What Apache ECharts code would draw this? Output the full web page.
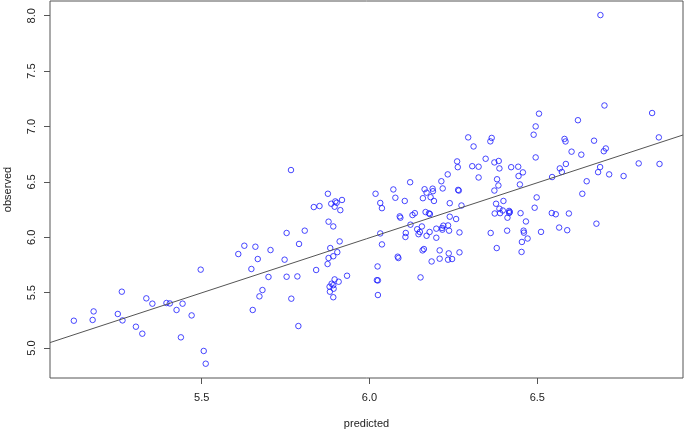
<!DOCTYPE html>
<html>
<head>
<meta charset="utf-8">
<title>observed vs predicted</title>
<script src="https://cdn.jsdelivr.net/npm/echarts@6/dist/echarts.min.js"></script>
<style>
  html, body { margin: 0; padding: 0; background: #fff; }
  #chart { width: 685px; height: 430px; }
</style>
</head>
<body>
<div id="chart"></div>
<script>
const predicted = [
  5.119, 5.178, 5.175, 5.262, 5.250, 5.264, 5.304, 5.323, 5.335, 5.353,
  5.395, 5.405, 5.425, 5.443, 5.438, 5.470, 5.497, 5.506, 5.512, 5.609,
  5.766, 5.876, 5.834, 5.851, 5.878, 5.753, 5.807, 5.790, 5.627, 5.660,
  5.705, 5.667, 5.747, 5.878, 5.875, 5.648, 5.841, 5.699, 5.753, 5.785,
  5.881, 5.681, 5.672, 5.767, 5.652, 5.788,
  6.294, 6.261, 6.263, 6.233, 6.121, 6.214, 6.071, 6.018, 6.077, 6.164,
  6.188, 6.189, 6.218, 6.159, 6.170, 6.182, 6.264, 6.266, 5.886, 5.898,
  5.902, 5.918, 5.896, 5.913, 6.032, 6.037, 6.105, 6.192, 6.239, 6.274,
  6.090, 6.092, 6.128, 6.135, 6.167, 6.177, 6.180, 5.892, 6.122, 6.108,
  6.107, 6.142, 6.156, 6.150, 6.146, 6.179, 6.170, 6.199, 6.199, 6.216,
  6.220, 6.234, 6.217, 6.237, 6.239, 6.258, 6.268, 6.032, 6.037, 5.911,
  5.883, 5.904, 5.892, 6.084, 6.086, 6.158, 6.162, 6.209, 6.236, 6.268,
  6.185, 6.209, 6.234, 6.246, 6.024, 6.022, 6.025, 6.152, 5.933, 5.896,
  5.908, 5.887, 5.892, 5.893, 5.882, 5.892, 6.025,
  6.688, 6.700, 6.842, 6.505, 6.621, 6.495, 6.489, 6.310, 6.364, 6.360,
  6.862, 6.581, 6.584, 6.669, 6.704, 6.698, 6.602, 6.631, 6.346, 6.495,
  6.372, 6.385, 6.387, 6.306, 6.325, 6.422, 6.443, 6.457, 6.444, 6.448,
  6.585, 6.567, 6.573, 6.544, 6.687, 6.681, 6.714, 6.757, 6.802, 6.864,
  6.325, 6.380, 6.384, 6.372, 6.647, 6.634, 6.498, 6.377, 6.399, 6.492,
  6.387, 6.397, 6.416, 6.418, 6.373, 6.389, 6.416, 6.450, 6.543, 6.555,
  6.594, 6.411, 6.466, 6.676, 6.565, 6.589, 6.361, 6.410, 6.459, 6.460,
  6.511, 6.471, 6.454, 6.379, 6.453
];
const observed = [
  5.247, 5.331, 5.254, 5.509, 5.308, 5.250, 5.193, 5.130, 5.449, 5.401,
  5.407, 5.403, 5.344, 5.401, 5.097, 5.295, 5.708, 4.974, 4.859, 5.849,
  6.607, 6.393, 6.273, 6.282, 6.141, 6.039, 6.060, 5.940, 5.924, 5.915,
  5.885, 5.804, 5.798, 5.813, 5.759, 5.714, 5.705, 5.642, 5.644, 5.647,
  5.554, 5.524, 5.467, 5.446, 5.344, 5.199,
  6.902, 6.685, 6.633, 6.568, 6.497, 6.506, 6.432, 6.393, 6.357, 6.434,
  6.439, 6.416, 6.441, 6.353, 6.403, 6.362, 6.428, 6.422, 6.303, 6.324,
  6.312, 6.337, 6.276, 6.245, 6.310, 6.263, 6.328, 6.328, 6.308, 6.287,
  6.189, 6.177, 6.201, 6.218, 6.228, 6.216, 6.210, 6.098, 6.114, 6.039,
  6.003, 6.073, 6.098, 6.048, 6.028, 6.048, 6.014, 6.078, 5.996, 6.084,
  6.105, 6.107, 6.069, 6.060, 6.186, 6.165, 6.044, 6.035, 5.936, 5.963,
  5.903, 5.866, 5.829, 5.825, 5.813, 5.882, 5.894, 5.882, 5.855, 5.864,
  5.782, 5.807, 5.798, 5.804, 5.737, 5.613, 5.611, 5.638, 5.653, 5.620,
  5.599, 5.581, 5.568, 5.536, 5.509, 5.459, 5.479,
  8.006, 7.190, 7.122, 7.116, 7.057, 7.001, 6.926, 6.820, 6.897, 6.866,
  6.902, 6.888, 6.865, 6.872, 6.802, 6.777, 6.773, 6.746, 6.709, 6.721,
  6.676, 6.689, 6.622, 6.642, 6.637, 6.633, 6.637, 6.586, 6.553, 6.477,
  6.662, 6.622, 6.590, 6.544, 6.634, 6.588, 6.568, 6.553, 6.667, 6.662,
  6.540, 6.524, 6.468, 6.422, 6.506, 6.393, 6.360, 6.303, 6.328, 6.267,
  6.258, 6.242, 6.238, 6.228, 6.215, 6.218, 6.219, 6.218, 6.219, 6.208,
  6.215, 6.177, 6.143, 6.123, 6.088, 6.064, 6.039, 6.060, 6.060, 6.042,
  6.049, 5.989, 5.958, 5.903, 5.868
];

// 刻度
const xTicks = [5.5, 6.0, 6.5];
const yTicks = [5.0, 5.5, 6.0, 6.5, 7.0, 7.5, 8.0];

// 拟合直线 observed = a + b * predicted
const fitIntercept = 0.034;
const fitSlope = 0.9936;

// 坐标范围（R 默认多留 4%）
const xMin = 5.048, xMax = 6.934;
const yMin = 4.730, yMax = 8.133;

const points = predicted.map((p, i) => [p, observed[i]]);
const fitLine = [xMin, xMax].map(x => [x, fitIntercept + fitSlope * x]);

const font = '"Liberation Sans", Arial, sans-serif';
const axisGray = '#555';

const chart = echarts.init(document.getElementById('chart'));

chart.setOption({
  animation: false,
  backgroundColor: '#fff',
  grid: {
    left: 50, right: 2, top: 1, bottom: 52,
    // v6 默认会把标签挤进容器，这里关掉，保持固定绘图区
    outerBoundsMode: 'none',
    containLabel: false,
    show: true, borderColor: axisGray, borderWidth: 1,
    backgroundColor: 'transparent'
  },
  xAxis: {
    type: 'value',
    min: xMin, max: xMax,
    name: 'predicted',
    nameLocation: 'middle',
    nameGap: 40,
    nameTextStyle: { fontFamily: font, fontSize: 11, color: '#222' },
    axisLine: { show: false },
    splitLine: { show: false },
    axisTick: { show: true, length: 6, customValues: xTicks, lineStyle: { color: axisGray } },
    axisLabel: {
      customValues: xTicks,
      formatter: v => v.toFixed(1),
      margin: 14,
      fontFamily: font, fontSize: 11, color: '#222'
    }
  },
  yAxis: {
    type: 'value',
    min: yMin, max: yMax,
    name: 'observed',
    nameLocation: 'middle',
    nameGap: 37,
    nameTextStyle: { fontFamily: font, fontSize: 11, color: '#222' },
    axisLine: { show: false },
    splitLine: { show: false },
    axisTick: { show: true, length: 6, customValues: yTicks, lineStyle: { color: axisGray } },
    axisLabel: {
      customValues: yTicks,
      formatter: v => v.toFixed(1),
      rotate: 90,
      align: 'center',
      verticalAlign: 'bottom',
      margin: 13,
      fontFamily: font, fontSize: 11, color: '#222'
    }
  },
  series: [
    {
      type: 'scatter',
      data: points,
      symbol: 'circle',
      symbolSize: 5.5,
      itemStyle: { color: 'transparent', borderColor: '#1a1aff', borderWidth: 1 },
      silent: true
    },
    {
      type: 'line',
      data: fitLine,
      showSymbol: false,
      lineStyle: { color: '#555', width: 1 },
      silent: true
    }
  ]
});
</script>
</body>
</html>
